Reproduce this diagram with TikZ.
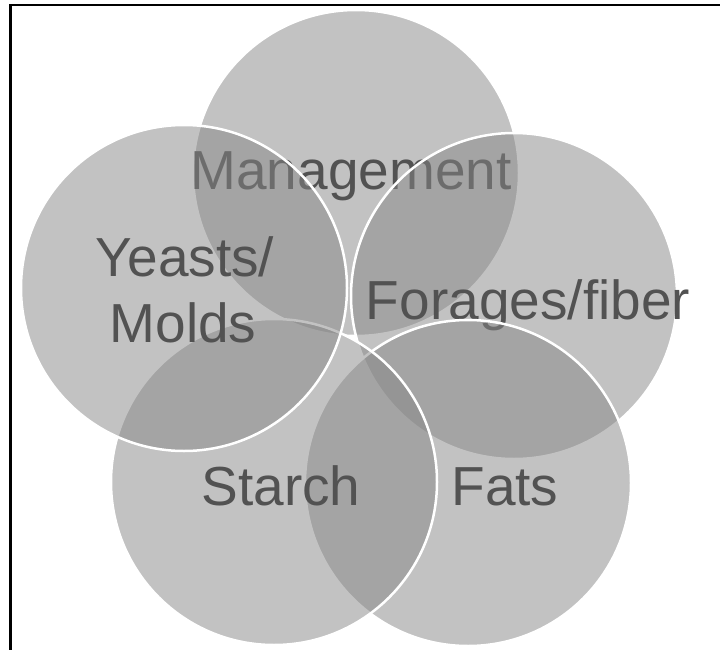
\documentclass[tikz,border=0pt]{standalone}
\usepackage{fontspec}
\setmainfont{Liberation Sans}
\begin{document}
\begin{tikzpicture}[x=1pt,y=-1pt,
  venn/.style={circle, minimum size=326pt, inner sep=0pt, outer sep=0pt,
    fill=black!47, fill opacity=0.5, draw=white, draw opacity=1, line width=2.5pt},
  lbl/.style={font=\fontsize{55}{66}\selectfont, text=black!68, inner sep=0pt, anchor=base}]
\useasboundingbox (0,0) rectangle (720,650);
\fill[white] (0,0) rectangle (720,650);
% frame
\draw[line width=3pt] (10.5,650) -- (10.5,4);
\draw[line width=2pt] (9,5) -- (720,5);
% circles in stacking order
\node[venn] (mgmt) at (356,173) {};
\node[lbl] (tmgmt) at (351,189) {Management};
\node[venn] (forage) at (514,296) {};
\node[lbl] (tforage) at (528,319) {Forages/fiber};
\node[venn] (fats) at (468,483) {};
\node[lbl] (tfats) at (505,505) {Fats};
\node[venn] (starch) at (274,482) {};
\node[lbl] (tstarch) at (281,505) {Starch};
\node[venn] (yeast) at (184,288) {};
\node[lbl] (tyeast1) at (185,276) {Yeasts/};
\node[lbl] (tyeast2) at (183,342) {Molds};
\end{tikzpicture}
\end{document}
